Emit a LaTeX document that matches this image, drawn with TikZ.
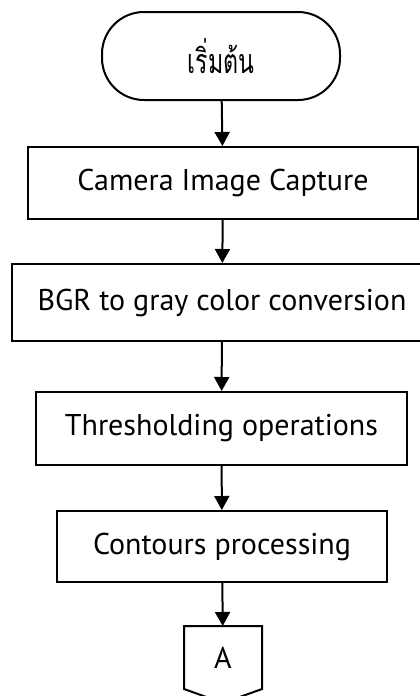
\documentclass[tikz,border=0pt]{standalone}
\usepackage{fontspec}
\setmainfont{PT Sans}
\newfontfamily\thaifont[Script=Thai, FakeStretch=0.68]{Loma}
\usetikzlibrary{arrows.meta}
\usetikzlibrary{positioning}

\begin{document}
\begin{tikzpicture}[x=1pt, y=-1pt, font=\fontsize{30}{34}\selectfont, line width=2pt,
	start style/.style={rectangle, draw, rounded corners=42pt, align=center, minimum width=238pt, minimum height=88pt},
	step box/.style={draw, rectangle, align=center, minimum height=72pt},
	flow/.style={-{Triangle[length=14pt, width=15pt]}, line width=2pt}]
	\useasboundingbox (0,0) rectangle (420,696);
	\node[start style] (start) at (221, 56) {\thaifont\fontsize{34}{38}\selectfont เริ่มต้น};
	\node[step box, minimum width=390pt] (capture) at (223, 183) {Camera Image Capture};
	\node[step box, minimum width=420pt, minimum height=77pt] (gray) at (222, 302.5) {BGR to gray color conversion};
	\node[step box, minimum width=371pt, minimum height=73pt] (thresh) at (221.5, 428.5) {Thresholding operations};
	\node[step box, minimum width=330pt, minimum height=71pt] (contours) at (222, 546.5) {Contours processing};
	\node[minimum width=76pt, minimum height=61pt, anchor=north] (conA) at (223, 626) {A};
	\draw (conA.north west) -- (conA.north east) -- (conA.south east) -- (223, 703) -- (conA.south west) -- cycle;
	\draw[flow] (start) -- (capture);
	\draw[flow] (capture) -- (gray);
	\draw[flow] (gray) -- (thresh);
	\draw[flow] (thresh) -- (contours);
	\draw[flow] (contours) -- (conA);
\end{tikzpicture}
\end{document}
